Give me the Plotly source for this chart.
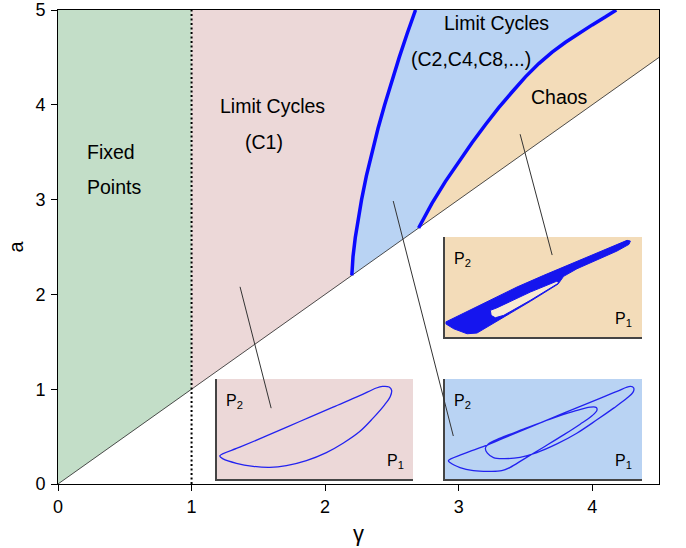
import plotly.graph_objects as go

# ---------------- data ----------------
# region boundaries in the (gamma, a) plane
G_MIN, G_MAX, A_MAX, HOPF = 0.0, 4.5, 5.0, 1.0
diag_g = [0.0, 4.5]
diag_a = [0.0, 4.5]

# first period-doubling boundary (left blue curve)
gL = [2.200, 2.209, 2.226, 2.247, 2.273, 2.309, 2.351, 2.396, 2.446, 2.499, 2.555, 2.614, 2.677]
aL = [2.20, 2.40, 2.60, 2.80, 3.00, 3.25, 3.50, 3.75, 4.00, 4.25, 4.50, 4.75, 5.00]

# onset of chaos (right blue curve)
gR = [2.70, 2.80, 2.90, 3.00, 3.10, 3.20, 3.30, 3.40, 3.50, 3.60, 3.70, 3.80, 3.90, 4.00, 4.10, 4.18]
aR = [2.70, 2.96, 3.19, 3.40, 3.60, 3.79, 3.97, 4.135, 4.295, 4.435, 4.555, 4.66, 4.755, 4.843, 4.928, 5.00]

x_ticks = [0, 1, 2, 3, 4]
y_ticks = [0, 1, 2, 3, 4, 5]

# inset 1: limit cycle C1 (P1, P2 in inset units)
c1_p1 = [1.4, 11.6, 25.2, 42.2, 59.2, 72.8, 81.3, 84.4, 87.8, 89.1, 88.4, 85.5, 79.6,
         72.8, 64.3, 55.8, 45.6, 35.4, 26.9, 18.4, 9.9, 3.1, 1.4]
c1_p2 = [23.1, 31.8, 43.1, 57.5, 71.9, 83.3, 91.0, 92.6, 92.0, 88.6, 82.6, 74.2, 60.9,
         47.5, 35.8, 26.4, 18.4, 13.4, 11.7, 12.7, 15.7, 20.1, 23.1]

# inset 2: limit cycle C2
c2_p1 = [1.7, 9.3, 20.3, 29.7, 43.2, 60.2, 77.1, 87.3, 94.1, 95.8, 95.4, 92.4, 85.6,
         77.1, 66.9, 56.8, 46.6, 38.1, 29.7, 24.6, 21.5, 20.5, 22.0, 28.0, 39.8, 53.4,
         65.3, 73.7, 76.8, 77.1, 74.6, 68.6, 60.2, 50.0, 39.8, 33.1, 28.8, 22.9, 14.4,
         7.6, 2.5, 1.7]
c2_p2 = [18.4, 25.1, 33.1, 40.8, 51.8, 65.9, 79.3, 87.6, 92.6, 91.0, 86.6, 80.9, 70.9,
         59.2, 45.8, 35.1, 26.4, 21.7, 20.4, 21.4, 25.8, 30.8, 35.1, 40.8, 49.8, 59.9,
         67.6, 71.9, 71.6, 68.6, 63.2, 54.8, 44.1, 31.8, 19.7, 11.7, 8.4, 7.7, 8.4,
         11.4, 16.4, 18.4]

# inset 3: chaotic attractor envelope and inner hole
ch_p1 = [0.3, 9.5, 23.0, 36.5, 50.1, 63.6, 77.2, 87.3, 92.4, 94.1, 93.4, 87.3, 77.2,
         67.0, 60.2, 57.4, 43.3, 29.8, 23.0, 16.2, 11.2, 4.4, 0.3]
ch_p2 = [15.0, 24.0, 37.3, 50.0, 61.7, 72.7, 84.0, 92.3, 96.7, 96.0, 92.7, 86.0, 77.3,
         68.3, 60.7, 53.0, 35.7, 20.0, 11.7, 4.0, 3.3, 8.3, 13.3]
hole_p1 = [23.0, 26.4, 43.3, 56.9, 57.7, 43.3, 29.8, 25.5, 23.4, 23.0]
hole_p2 = [26.7, 29.3, 45.0, 56.0, 54.0, 36.7, 21.7, 19.3, 21.7, 26.7]

# inset frame extent in inset units
box_p1 = [0, 100, 100, 0]
box_p2 = [0, 0, 100, 100]

# ---------------- style ----------------
GREEN = "#c3dec8"
PINK = "#ecd8d8"
LBLUE = "#b9d3f3"
TAN = "#f3dcb9"
CURVE = "#0a0aff"
FONT = "Liberation Sans, Arial, sans-serif"

fig = go.Figure()

# region fills
fig.add_trace(go.Scatter(x=[G_MIN, HOPF, HOPF, G_MIN], y=[G_MIN, HOPF, A_MAX, A_MAX],
                         fill="toself", fillcolor=GREEN, mode="none", hoverinfo="skip"))
fig.add_trace(go.Scatter(x=[HOPF] + gL + [HOPF], y=[HOPF] + aL + [A_MAX],
                         fill="toself", fillcolor=PINK, mode="none", hoverinfo="skip"))
fig.add_trace(go.Scatter(x=gL + gR[::-1], y=aL + aR[::-1],
                         fill="toself", fillcolor=LBLUE, mode="none", hoverinfo="skip"))
fig.add_trace(go.Scatter(x=gR + [G_MAX, G_MAX], y=aR + [A_MAX, G_MAX],
                         fill="toself", fillcolor=TAN, mode="none", hoverinfo="skip"))

# diagonal a = gamma
fig.add_trace(go.Scatter(x=diag_g, y=diag_a, mode="lines",
                         line=dict(color="#222222", width=0.8), hoverinfo="skip"))
# Hopf line gamma = 1
fig.add_trace(go.Scatter(x=[HOPF, HOPF], y=[0, A_MAX], mode="lines",
                         line=dict(color="black", width=2, dash="2px,2.5px"), hoverinfo="skip"))
# blue boundaries
fig.add_trace(go.Scatter(x=gL, y=aL, mode="lines", line=dict(color=CURVE, width=3.5),
                         hoverinfo="skip"))
fig.add_trace(go.Scatter(x=gR, y=aR, mode="lines", line=dict(color=CURVE, width=3.5),
                         hoverinfo="skip"))

# inset backgrounds
for ax, col in (("2", PINK), ("3", LBLUE), ("4", TAN)):
    fig.add_trace(go.Scatter(x=box_p1, y=box_p2, xaxis=f"x{ax}", yaxis=f"y{ax}",
                             fill="toself", fillcolor=col, mode="none", hoverinfo="skip"))

# inset traces
fig.add_trace(go.Scatter(x=c1_p1, y=c1_p2, mode="lines", xaxis="x2", yaxis="y2",
                         line=dict(color="#2222f0", width=1.3, shape="spline"), hoverinfo="skip"))
fig.add_trace(go.Scatter(x=c2_p1, y=c2_p2, mode="lines", xaxis="x3", yaxis="y3",
                         line=dict(color="#2222f0", width=1.3, shape="spline"), hoverinfo="skip"))
fig.add_trace(go.Scatter(x=ch_p1, y=ch_p2, mode="lines", xaxis="x4", yaxis="y4",
                         fill="toself", fillcolor="#1515ee",
                         line=dict(color="#1515ee", width=1), hoverinfo="skip"))
fig.add_trace(go.Scatter(x=hole_p1, y=hole_p2, mode="lines", xaxis="x4", yaxis="y4",
                         fill="toself", fillcolor="#f8ead3",
                         line=dict(color="#1515ee", width=1), hoverinfo="skip"))

inset_axis = dict(range=[0, 100], showgrid=False, zeroline=False, showticklabels=False,
                  ticks="", showline=True, linecolor="#444444", linewidth=1.5,
                  automargin=False)

# inset placement (fractions of the main plotting area)
dom_x_left = [0.2646, 0.5907]
dom_x_right = [0.644, 0.9717]
dom_y_low = [0.0105, 0.2215]
dom_y_high = [0.310, 0.521]

shapes = []
# pointer lines
for (x0, y0, x1, y1) in ((1.363, 2.08, 1.596, 0.80), (2.51, 2.985, 2.96, 0.506),
                         (3.46, 3.69, 3.70, 2.415)):
    shapes.append(dict(type="line", xref="x", yref="y", x0=x0, y0=y0, x1=x1, y1=y1,
                       line=dict(color="#333333", width=1), layer="above"))

annotations = []
def txt(t, x, y, size=19.5, xanchor="center", xref="x", yref="y"):
    annotations.append(dict(text=t, x=x, y=y, xref=xref, yref=yref, showarrow=False,
                            xanchor=xanchor, yanchor="middle",
                            font=dict(family=FONT, size=size, color="black")))

txt("Fixed", 0.205, 3.50, xanchor="left")
txt("Points", 0.205, 3.13, xanchor="left")
txt("Limit Cycles", 1.607, 3.99)
txt("(C1)", 1.543, 3.61)
txt("Limit Cycles", 3.281, 4.86)
txt("(C2,C4,C8,...)", 3.09, 4.48)
txt("Chaos", 3.757, 4.08)

for ax in ("2", "3", "4"):
    txt("P<sub>2</sub>", 0.035, 0.78, size=16, xanchor="left", xref=f"x{ax} domain", yref=f"y{ax} domain")
    txt("P<sub>1</sub>", 0.855, 0.18, size=16, xanchor="left", xref=f"x{ax} domain", yref=f"y{ax} domain")

fig.update_layout(
    width=686, height=548,
    margin=dict(l=58, r=27, t=10, b=64),
    paper_bgcolor="white", plot_bgcolor="white",
    showlegend=False,
    font=dict(family=FONT, size=18, color="black"),
    xaxis=dict(range=[G_MIN, G_MAX], tickvals=x_ticks, ticktext=[str(v) for v in x_ticks],
               showgrid=False, zeroline=False, showline=True, mirror=True, automargin=False,
               linecolor="black", linewidth=1, ticks="outside", ticklen=6, tickcolor="black",
               tickfont=dict(size=18), ticklabelstandoff=0, ticklabeloverflow="allow",
               title=dict(text="γ", font=dict(size=22), standoff=10)),
    yaxis=dict(range=[0, A_MAX], tickvals=y_ticks, ticktext=[str(v) for v in y_ticks],
               showgrid=False, zeroline=False, showline=True, mirror=True, automargin=False,
               linecolor="black", linewidth=1, ticks="outside", ticklen=6, tickcolor="black",
               tickfont=dict(size=18), ticklabelstandoff=2, ticklabeloverflow="allow",
               title=dict(text="a", font=dict(size=20), standoff=6)),
    xaxis2=dict(domain=dom_x_left, anchor="y2", **inset_axis),
    yaxis2=dict(domain=dom_y_low, anchor="x2", **inset_axis),
    xaxis3=dict(domain=dom_x_right, anchor="y3", **inset_axis),
    yaxis3=dict(domain=dom_y_low, anchor="x3", **inset_axis),
    xaxis4=dict(domain=dom_x_right, anchor="y4", **inset_axis),
    yaxis4=dict(domain=dom_y_high, anchor="x4", **inset_axis),
    shapes=shapes,
    annotations=annotations,
)

# remove the default 8px page margin so the figure fills the window exactly
fig.write_html("out.html", config={"displayModeBar": False},
               post_script="document.body.style.margin='0';")
